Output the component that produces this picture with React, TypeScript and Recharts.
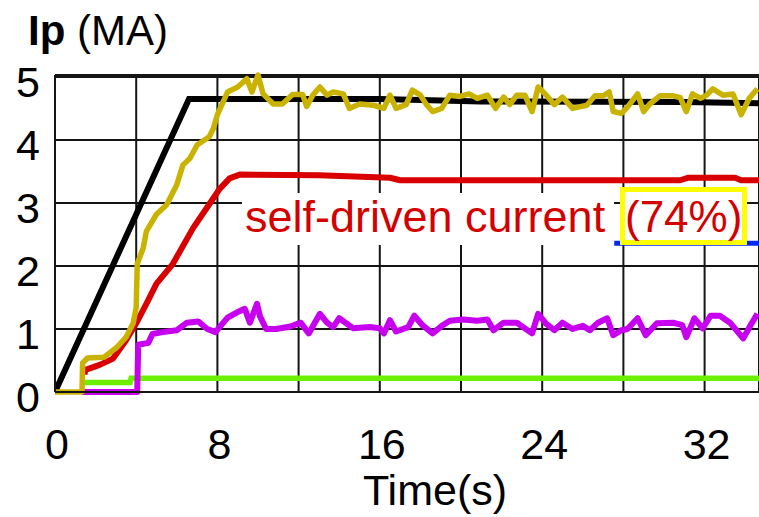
import React from 'react';
import { LineChart, Line, XAxis, YAxis, CartesianGrid } from 'recharts';

type P = { t: number; v: number };
const mk = (a: number[][]): P[] => a.map(([t, v]) => ({ t, v }));

const xTicks = [0, 4, 8, 12, 16, 20, 24, 28, 32];
const xLabelTicks = [0, 8, 16, 24, 32];
const yTicks = [0, 1, 2, 3, 4, 5];

const ipRef = mk([
  [0, 0], [6.6, 4.65], [16, 4.65], [21, 4.61], [31, 4.6], [34.7, 4.58],
]);

const ipMeasured = mk([
  [0, 0], [1.33, 0], [1.36, 0.46], [1.6, 0.54], [2.4, 0.55], [3.05, 0.71], [3.5, 0.87],
  [3.85, 1.09], [4.0, 1.34], [4.05, 2.03], [4.35, 2.29], [4.5, 2.55], [5.0, 2.82],
  [5.5, 2.97], [6.0, 3.29], [6.3, 3.6], [6.65, 3.71], [7.0, 3.92], [7.6, 4.05],
  [7.8, 4.18], [8.0, 4.4], [8.5, 4.76], [9.0, 4.84], [9.45, 4.97], [9.7, 4.76],
  [10.0, 5.03], [10.25, 4.73], [10.75, 4.57], [11.2, 4.57], [11.7, 4.72], [12.2, 4.72],
  [12.4, 4.53], [12.7, 4.71], [13.05, 4.84], [13.4, 4.71], [13.7, 4.76], [14.2, 4.73],
  [14.5, 4.5], [15.0, 4.57], [15.7, 4.55], [16.2, 4.5], [16.5, 4.71], [16.8, 4.5],
  [17.3, 4.56], [17.6, 4.79], [18.0, 4.71], [18.3, 4.56], [18.6, 4.45], [19.05, 4.5],
  [19.45, 4.71], [19.95, 4.69], [20.4, 4.73], [20.8, 4.66], [21.3, 4.71], [21.7, 4.5],
  [22.1, 4.68], [22.4, 4.56], [22.75, 4.71], [23.15, 4.71], [23.5, 4.45], [23.8, 4.84],
  [24.2, 4.71], [24.6, 4.56], [25.0, 4.68], [25.5, 4.5], [26.2, 4.55], [26.6, 4.7],
  [27.0, 4.7], [27.3, 4.76], [27.5, 4.45], [27.9, 4.42], [28.2, 4.52], [28.7, 4.73],
  [29.0, 4.45], [29.3, 4.57], [29.8, 4.7], [30.45, 4.7], [30.8, 4.67], [31.1, 4.45],
  [31.4, 4.73], [31.8, 4.66], [32.1, 4.71], [32.4, 4.81], [32.9, 4.71], [33.4, 4.73],
  [33.8, 4.4], [34.2, 4.66], [34.6, 4.81],
]);

const selfDriven = mk([
  [1.45, 0.28], [1.5, 0.35], [2.2, 0.43], [2.86, 0.53], [3.5, 0.82], [4.0, 1.09],
  [4.5, 1.4], [5.0, 1.72], [5.8, 2.03], [6.8, 2.6], [7.6, 2.98], [8.1, 3.22],
  [8.6, 3.39], [9.1, 3.45], [13, 3.44], [16.5, 3.4], [17, 3.36], [30.8, 3.36],
  [31.2, 3.4], [33.5, 3.4], [33.8, 3.36], [34.7, 3.36],
]);

const purple = mk([
  [1.33, 0], [4.05, 0], [4.1, 0.75], [4.6, 0.78], [4.8, 0.92], [5.3, 0.95], [6.0, 0.98],
  [6.5, 1.1], [7.05, 1.12], [7.5, 1.0], [7.9, 0.95], [8.5, 1.18], [8.95, 1.26],
  [9.35, 1.32], [9.6, 1.1], [9.95, 1.4], [10.1, 1.2], [10.4, 1.0], [10.9, 1.0],
  [11.6, 1.04], [12.1, 1.1], [12.5, 0.93], [13.05, 1.24], [13.4, 1.1], [13.7, 1.03],
  [14.0, 1.17], [14.7, 1.01], [15.5, 1.03], [16.0, 1.01], [16.2, 0.93], [16.5, 1.14],
  [16.8, 0.96], [17.4, 1.03], [17.7, 1.21], [18.1, 1.06], [18.6, 0.93], [19.1, 1.06],
  [19.45, 1.13], [20.1, 1.15], [20.8, 1.13], [21.3, 1.15], [21.6, 0.98], [22.1, 1.1],
  [22.75, 1.1], [23.5, 0.93], [23.8, 1.24], [24.2, 1.08], [24.6, 0.98], [25.0, 1.1],
  [25.5, 1.0], [26.0, 1.05], [26.35, 0.98], [26.75, 1.1], [27.2, 1.17], [27.5, 0.9],
  [27.9, 0.98], [28.2, 1.0], [28.7, 1.17], [29.1, 0.9], [29.65, 1.09], [30.45, 1.1],
  [30.9, 1.06], [31.1, 0.87], [31.5, 1.17], [31.9, 1.01], [32.3, 1.21], [32.75, 1.21],
  [33.25, 1.1], [33.9, 0.85], [34.3, 1.08], [34.6, 1.24],
]);

const green = mk([
  [1.4, 0.15], [3.7, 0.15], [3.75, 0.22], [34.7, 0.22],
]);

const blue = mk([
  [27.55, 2.36], [34.7, 2.36],
]);

const FONT = '"Liberation Sans", Arial, Helvetica, sans-serif';

const XTick = (props: any) => {
  const { x, y, payload } = props;
  if (!xLabelTicks.includes(payload.value)) return null;
  return (
    <text x={x + 2} y={y + 59} textAnchor="middle" fontSize={43} fontFamily={FONT} fill="#000">
      {payload.value}
    </text>
  );
};

const YTick = (props: any) => {
  const { y, payload } = props;
  return (
    <text x={40} y={y + 20} textAnchor="end" fontSize={43} fontFamily={FONT} fill="#000">
      {payload.value}
    </text>
  );
};

export default function App() {
  return (
    <div style={{ position: 'absolute', left: 0, top: 0, width: 759, height: 517, background: '#fff' }}>
      <LineChart
        width={759}
        height={517}
        margin={{ top: 75, right: 0, left: 0, bottom: 65 }}
        style={{ position: 'absolute', left: 0, top: 0 }}
      >
        <CartesianGrid stroke="#151515" strokeWidth={2} vertical horizontal />
        <XAxis
          type="number"
          dataKey="t"
          domain={[0, 34.68]}
          ticks={xTicks}
          allowDataOverflow
          height={60}
          tickLine={false}
          axisLine={{ stroke: '#151515', strokeWidth: 2 }}
          tick={<XTick />}
          interval={0}
        />
        <YAxis
          type="number"
          dataKey="v"
          domain={[0, 5]}
          ticks={yTicks}
          width={55}
          tickLine={false}
          axisLine={{ stroke: '#151515', strokeWidth: 2 }}
          tick={<YTick />}
          interval={0}
        />
        <Line data={green} dataKey="v" type="linear" stroke="#6cf000" strokeWidth={5.5} dot={false} isAnimationActive={false} />
        <Line data={blue} dataKey="v" type="linear" stroke="#0028f0" strokeWidth={5} dot={false} isAnimationActive={false} />
        <Line data={purple} dataKey="v" type="linear" stroke="#c800f0" strokeWidth={6} dot={false} isAnimationActive={false} strokeLinejoin="round" />
        <Line data={selfDriven} dataKey="v" type="linear" stroke="#d80000" strokeWidth={6} dot={false} isAnimationActive={false} strokeLinejoin="round" />
        <Line data={ipRef} dataKey="v" type="linear" stroke="#000000" strokeWidth={6} dot={false} isAnimationActive={false} />
        <Line data={ipMeasured} dataKey="v" type="linear" stroke="#c9b300" strokeWidth={5.5} dot={false} isAnimationActive={false} strokeLinejoin="round" />
      </LineChart>
      <svg
        width={759}
        height={517}
        style={{ position: 'absolute', left: 0, top: 0, pointerEvents: 'none' }}
      >
        <text x={28} y={45} fontSize={42} fontFamily={FONT} fill="#000">
          <tspan fontWeight="bold">Ip</tspan>
          <tspan> (MA)</tspan>
        </text>
        <text x={435} y={505} textAnchor="middle" fontSize={43} fontFamily={FONT} fill="#000">
          Time(s)
        </text>
        <rect x={242} y={193} width={372} height={52} fill="#fff" />
        <rect x={622.5} y={189.5} width={122} height={53} fill="#fff" stroke="#ffff00" strokeWidth={5} />
        <text x={245} y={232} fontSize={45} fontFamily={FONT} fill="#d40000">
          self-driven current
        </text>
        <text x={625} y={232} fontSize={44} fontFamily={FONT} fill="#d40000">
          (74%)
        </text>
      </svg>
    </div>
  );
}
